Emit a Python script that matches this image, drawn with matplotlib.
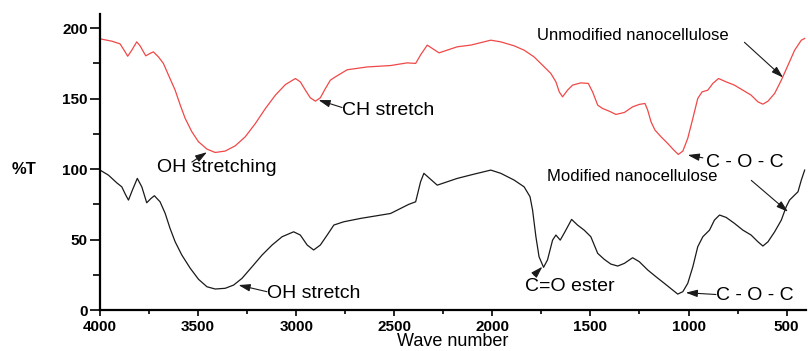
import matplotlib
matplotlib.use("Agg")
import matplotlib.pyplot as plt
from matplotlib.ticker import MultipleLocator

plt.rcParams['font.family'] = ['Liberation Sans', 'DejaVu Sans']

# unmodified nanocellulose (red), wavenumber / %T
wn_unmod = [4000, 3991, 3940, 3898, 3872, 3859, 3838, 3813, 3796, 3767, 3745, 3728,
            3702, 3677, 3651, 3617, 3591, 3566, 3532, 3498, 3455, 3413, 3362, 3311,
            3260, 3208, 3157, 3106, 3055, 3004, 2979, 2953, 2928, 2902, 2877, 2851,
            2826, 2800, 2740, 2638, 2519, 2434, 2391, 2366, 2332, 2272, 2179, 2110,
            2008, 1957, 1889, 1838, 1787, 1744, 1702, 1676, 1659, 1642, 1617, 1591,
            1549, 1511, 1489, 1463, 1438, 1404, 1370, 1327, 1285, 1251, 1222, 1208,
            1191, 1171, 1140, 1106, 1075, 1052, 1029, 1004, 978, 953, 931, 902,
            876, 847, 808, 766, 723, 681, 646, 621, 595, 561, 527, 493,
            459, 425, 408]
t_unmod = [192.7, 192.2, 190.8, 188.9, 183.2, 180.1, 184.4, 190.3, 187.5, 180.4, 182.1, 183.2,
           179.6, 175, 166.7, 156, 145.4, 136, 126.5, 119.4, 114.2, 111.8, 112.8, 116.5,
           122.9, 132.4, 143, 152.5, 160, 164.3, 161.9, 156, 150.6, 148.2, 150.6, 157.2,
           163.1, 165.5, 170.5, 172.5, 173.5, 175.4, 175, 181, 188, 182.5, 186.8, 188,
           191.5, 190.3, 187.5, 184.4, 179.6, 173.7, 167.9, 161.9, 154.8, 151.3, 156, 159.6,
           161.2, 160.8, 154.8, 145.4, 143, 141.1, 138.8, 140.2, 144.2, 145.9, 146.6, 141.8,
           133.5, 127.7, 122.9, 118.2, 113.5, 110.4, 112.8, 121.8, 136, 150.1, 154.8, 156,
           160.8, 164.3, 161.9, 159.6, 156, 152.5, 147.7, 146.1, 148.2, 153.7, 163.1, 173.7,
           184.4, 191.5, 192.7]

# modified nanocellulose (black)
wn_mod = [4000, 3957, 3915, 3889, 3869, 3855, 3835, 3810, 3787, 3762, 3740, 3723,
          3694, 3668, 3643, 3617, 3583, 3540, 3498, 3455, 3413, 3362, 3319, 3276,
          3225, 3174, 3123, 3072, 3013, 2979, 2944, 2911, 2877, 2842, 2808, 2758,
          2672, 2519, 2426, 2391, 2366, 2349, 2281, 2179, 2094, 2008, 1957, 1889,
          1838, 1808, 1795, 1778, 1762, 1739, 1719, 1693, 1676, 1654, 1630, 1596,
          1566, 1532, 1498, 1463, 1430, 1396, 1361, 1327, 1285, 1251, 1208, 1166,
          1123, 1081, 1055, 1029, 1004, 978, 953, 927, 893, 868, 842, 808,
          766, 723, 681, 646, 621, 595, 561, 527, 502, 485, 459, 442,
          425, 408]
t_mod = [99.3, 95.7, 90.3, 87.4, 81.6, 78, 85.1, 93.4, 87.4, 76.1, 79.2, 81.1,
         76.8, 68.6, 57.9, 48.4, 39, 29.6, 21.8, 16.5, 14.9, 15.4, 17.7, 22.5,
         30.7, 39, 46.1, 52, 55.5, 53.2, 46.1, 42.6, 46.1, 53.2, 60.3, 62.6,
         65, 68.5, 75, 76.8, 91, 97, 88.6, 93.4, 96.4, 99.3, 97, 92.2,
         87.4, 80.4, 70.9, 52, 37.8, 30.3, 35.5, 49.6, 53.2, 49.6, 55.5, 64.3,
         60.3, 56.7, 52, 40.2, 36, 32.6, 31.2, 33.1, 37.1, 34.3, 28.4, 23.6,
         18.9, 14.2, 11.3, 13, 18.9, 30.7, 44.9, 52, 56.7, 63.8, 67.4, 65.7,
         61.5, 56.7, 53.2, 48.4, 45.4, 48.4, 55.5, 63.8, 73.3, 78, 81.6, 83.9,
         92.2, 99.3]

yticks = [0, 50, 100, 150, 200]
xticks = [4000, 3500, 3000, 2500, 2000, 1500, 1000, 500]

fig = plt.figure(figsize=(8.08, 3.51), dpi=100)
ax = fig.add_axes([0.1238, 0.1168, 0.874, 0.843])

ax.plot(wn_unmod, t_unmod, color='#f04848', lw=0.9)
ax.plot(wn_mod, t_mod, color='#1a1a1a', lw=0.9)

ax.set_xlim(4000, 400)
ax.set_ylim(0, 210)

for s in ['top', 'right']:
    ax.spines[s].set_visible(False)
for s in ['left', 'bottom']:
    ax.spines[s].set_linewidth(1.6)

ax.set_xticks(xticks)
ax.set_yticks(yticks)
ax.xaxis.set_minor_locator(MultipleLocator(250))
ax.yaxis.set_minor_locator(MultipleLocator(25))
ax.tick_params(axis='y', which='major', direction='out', length=7, width=1.2, pad=2)
ax.tick_params(axis='y', which='minor', direction='out', length=5, width=1.2)
ax.tick_params(axis='x', which='major', direction='out', length=4, width=1.2, pad=3)
ax.tick_params(axis='x', which='minor', direction='out', length=3, width=1.2)
for lab in ax.get_xticklabels() + ax.get_yticklabels():
    lab.set_fontsize(11)
    lab.set_fontweight('bold')

ax.text(-0.1245, 100, '%T', transform=ax.get_yaxis_transform(), fontsize=12,
        fontweight='bold', ha='left', va='center', clip_on=False)
ax.text(0.499, -0.106, 'Wave number', transform=ax.transAxes, fontsize=13,
        ha='center', va='center', clip_on=False)

arrow = dict(arrowstyle='-|>,head_length=0.7,head_width=0.22', color='#1a1a1a',
             lw=0.8, mutation_scale=10, shrinkA=0, shrinkB=0)

ax.annotate('OH stretching', xy=(3455, 112), xytext=(3709, 101.4), fontsize=14,
            va='center', ha='left')
ax.annotate('', xy=(3455, 112), xytext=(3532, 105), arrowprops=arrow)
ax.annotate('CH stretch', xy=(2886, 149), xytext=(2766, 141.8), fontsize=14,
            va='center', ha='left')
ax.annotate('', xy=(2886, 149), xytext=(2766, 143.7), arrowprops=arrow)
ax.annotate('Unmodified nanocellulose', xy=(1770, 195), xytext=(1770, 195), fontsize=12,
            va='center', ha='left')
ax.annotate('', xy=(518, 165), xytext=(715, 190), arrowprops=arrow)
ax.annotate('C - O - C', xy=(910, 105), xytext=(910, 105), fontsize=14,
            va='center', ha='left')
ax.annotate('', xy=(1004, 110), xytext=(927, 108), arrowprops=arrow)
ax.annotate('Modified nanocellulose', xy=(1719, 95), xytext=(1719, 95), fontsize=12,
            va='center', ha='left')
ax.annotate('', xy=(493, 69.7), xytext=(680, 92), arrowprops=arrow)
ax.annotate('C=O ester', xy=(1835, 16.5), xytext=(1835, 16.5), fontsize=14,
            va='center', ha='left')
ax.annotate('', xy=(1745, 30.7), xytext=(1787, 24.8), arrowprops=arrow)
ax.annotate('C - O - C', xy=(860, 10), xytext=(860, 10), fontsize=14,
            va='center', ha='left', annotation_clip=False)
ax.annotate('', xy=(1014, 12.3), xytext=(860, 11), arrowprops=arrow)
ax.annotate('OH stretch', xy=(3149, 11.8), xytext=(3149, 11.8), fontsize=14,
            va='center', ha='left')
ax.annotate('', xy=(3294, 17.7), xytext=(3149, 13), arrowprops=arrow)

fig.savefig('out.png', dpi=100)
